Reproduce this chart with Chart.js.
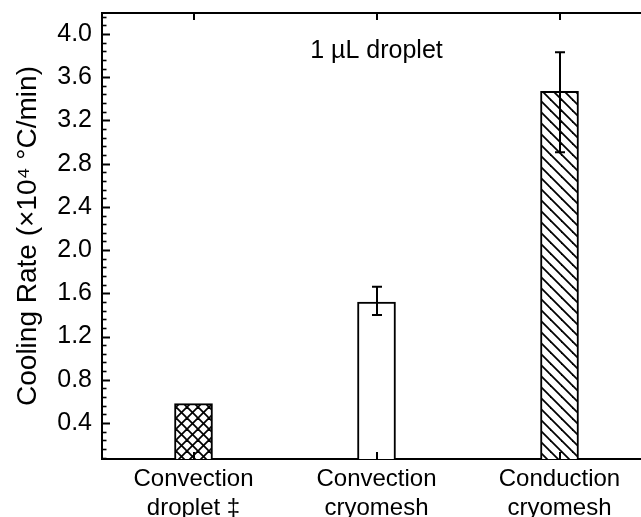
<!DOCTYPE html>
<html>
<head>
<meta charset="utf-8">
<script src="https://cdn.jsdelivr.net/npm/chart.js@4"></script>
<style>
html,body{margin:0;padding:0;background:#fff;overflow:hidden;width:641px;height:517px;}
canvas{display:block;}
</style>
</head>
<body>
<canvas id="c" width="660" height="517"></canvas>
<script>
const categories = [['Convection', 'droplet \u2021'], ['Convection', 'cryomesh'], ['Conduction', 'cryomesh']];
const rates = [0.58, 1.52, 3.47];
const errLow = [null, 1.40, 2.905];
const errHigh = [null, 1.66, 3.83];
const yTicks = [0.4, 0.8, 1.2, 1.6, 2.0, 2.4, 2.8, 3.2, 3.6, 4.0];
const yTickLabels = ['0.4', '0.8', '1.2', '1.6', '2.0', '2.4', '2.8', '3.2', '3.6', '4.0'];
const yTitle = 'Cooling Rate (\u00d710\u2074 \u00b0C/min)';
const noteText = '1 \u00b5L droplet';

const FONT = '"Liberation Sans", Arial, Helvetica, sans-serif';

function makePattern(type, s) {
  const c = document.createElement('canvas');
  c.width = s; c.height = s;
  const g = c.getContext('2d');
  g.fillStyle = '#fff';
  g.fillRect(0, 0, s, s);
  g.strokeStyle = '#000';
  g.lineWidth = 1.8;
  for (let k = -1; k <= 1; k++) {
    g.beginPath();
    g.moveTo(-s, -s + k * s);
    g.lineTo(2 * s, 2 * s + k * s);
    g.stroke();
    if (type === 'cross') {
      g.beginPath();
      g.moveTo(-s, 2 * s + k * s);
      g.lineTo(2 * s, -s + k * s);
      g.stroke();
    }
  }
  return g.createPattern(c, 'repeat');
}

const fills = [makePattern('cross', 11), '#ffffff', makePattern('diag', 11)];

const framePlugin = {
  id: 'frame',
  afterDatasetsDraw(chart) {
    const ctx = chart.ctx;
    const x = chart.scales.x, y = chart.scales.y;
    const a = chart.chartArea;
    ctx.save();
    ctx.strokeStyle = '#000';
    ctx.lineWidth = 2;
    for (let i = 0; i < rates.length; i++) {
      if (errLow[i] == null) continue;
      const px = Math.round(x.getPixelForValue(i));
      const yl = y.getPixelForValue(errLow[i]);
      const yh = y.getPixelForValue(errHigh[i]);
      ctx.beginPath();
      ctx.moveTo(px, yl); ctx.lineTo(px, yh);
      ctx.moveTo(px - 5, yl); ctx.lineTo(px + 5, yl);
      ctx.moveTo(px - 5, yh); ctx.lineTo(px + 5, yh);
      ctx.stroke();
    }
    ctx.beginPath();
    ctx.moveTo(a.left - 1, a.top);
    ctx.lineTo(a.right + 20, a.top);
    ctx.stroke();
    for (let i = 0; i < categories.length; i++) {
      const px = Math.round(x.getPixelForValue(i));
      ctx.beginPath();
      ctx.moveTo(px, a.top); ctx.lineTo(px, a.top + 7);
      ctx.moveTo(px, a.bottom); ctx.lineTo(px, a.bottom - 7);
      ctx.stroke();
    }
    const step = 0.08;
    for (let k = 1; k * step <= y.max + 1e-9; k++) {
      const v = k * step;
      if (v < y.min) continue;
      const py = Math.round(y.getPixelForValue(v)) + 0.5;
      const major = (k % 5 === 0);
      ctx.lineWidth = major ? 2 : 1.6;
      ctx.beginPath();
      ctx.moveTo(a.left, py);
      ctx.lineTo(a.left + (major ? 8 : 4.5), py);
      ctx.stroke();
    }
    ctx.fillStyle = '#000';
    ctx.font = '25px ' + FONT;
    ctx.textAlign = 'center';
    ctx.textBaseline = 'middle';
    ctx.fillText(noteText, x.getPixelForValue(1), y.getPixelForValue(3.845));
    ctx.restore();
  }
};

new Chart(document.getElementById('c'), {
  type: 'bar',
  data: {
    labels: categories,
    datasets: [{
      data: rates,
      backgroundColor: fills,
      borderColor: '#000',
      borderWidth: 2,
      borderSkipped: false,
      barThickness: 38
    }]
  },
  options: {
    responsive: false,
    animation: false,
    devicePixelRatio: 1,
    layout: { padding: { top: 13, right: 9, left: 0, bottom: 0 } },
    plugins: { legend: { display: false }, tooltip: { enabled: false } },
    scales: {
      x: {
        type: 'category',
        offset: true,
        grid: { display: false, drawTicks: false },
        border: { display: true, color: '#000', width: 2 },
        ticks: {
          color: '#000',
          padding: 6,
          maxRotation: 0,
          autoSkip: false,
          font: { family: FONT, size: 24, lineHeight: 1.2 }
        },
        afterFit(s) { s.height = 58; s.paddingLeft = 0; s.paddingRight = 0; }
      },
      y: {
        type: 'linear',
        min: 0.067,
        max: 4.194,
        grid: { display: false, drawTicks: false },
        border: { display: true, color: '#000', width: 2 },
        afterBuildTicks(s) { s.ticks = yTicks.map(v => ({ value: v })); },
        ticks: {
          color: '#000',
          padding: 10,
          font: { family: FONT, size: 25 },
          callback(v, i) { return yTickLabels[i]; }
        },
        title: {
          display: true,
          text: yTitle,
          color: '#000',
          font: { family: FONT, size: 28 },
          padding: { top: 11, bottom: 0 }
        },
        afterFit(s) { s.width = 102; s.paddingTop = 0; s.paddingBottom = 0; }
      }
    }
  },
  plugins: [framePlugin]
});
</script>
</body>
</html>
